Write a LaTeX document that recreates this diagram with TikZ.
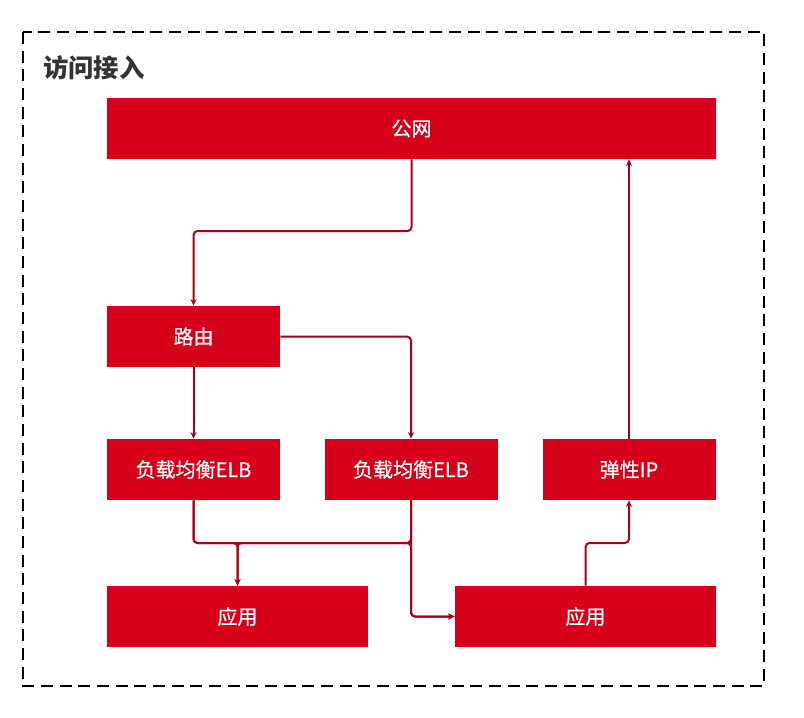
\documentclass[tikz,border=0pt]{standalone}
\usepackage{fontspec}
\setmainfont{Noto Sans CJK SC}
\newfontfamily\boxfont{Noto Sans CJK SC}[FakeBold=0.6]
\usetikzlibrary{arrows.meta,calc}
\definecolor{boxred}{HTML}{D7001B}
\definecolor{linered}{HTML}{A8001A}
\definecolor{titlegray}{HTML}{333333}
\tikzset{
  box/.style={fill=boxred, draw=none, text=white, font=\boxfont\fontsize{15pt}{17pt}\selectfont, minimum height=45.75pt, inner sep=0pt},
  smallbox/.style={box, minimum width=129.75pt},
  conn/.style={draw=linered, line width=1.5pt, rounded corners=3pt, -{Stealth[length=5pt,width=4.5pt]}},
}
\begin{document}
\begin{tikzpicture}[x=0.75pt,y=-0.75pt]
\useasboundingbox (0,0) rectangle (804,718);
\draw[black, line width=1.3pt, dash pattern=on 9pt off 5pt] (23,32) rectangle (764,686);
\node[anchor=west, text=titlegray, font=\fontsize{19pt}{22pt}\selectfont\bfseries, inner sep=0pt] (title) at (43,68) {访问接入};
\node[box, minimum width=456.75pt] (gw) at (411.5,128.5) {公网};
\node[smallbox] (router) at (193.5,336.5) {路由};
\node[smallbox] (elb1) at (193.5,469.5) {负载均衡ELB};
\node[smallbox] (elb2) at (411,469.5) {负载均衡ELB};
\node[smallbox] (eip) at (629,469.5) {弹性IP};
\node[box, minimum width=195.75pt] (app1) at (237.5,616.5) {应用};
\node[box, minimum width=195.75pt] (app2) at (585.5,616.5) {应用};
\coordinate (ytop) at (0,231);
\coordinate (ymid) at (0,543);
% connectors
\draw[conn] (gw.south) -- (gw.south |- ytop) -| (router.north);
\draw[conn] (router.east) -| (elb2.north);
\draw[conn] (router.south) -- (elb1.north);
\draw[conn] (elb1.south) -- (elb1.south |- ymid) -| (app1.north);
\draw[conn] (elb1.south) -- (elb1.south |- ymid) -- (elb2.south |- ymid) |- (app2.west);
\draw[conn] (elb2.south) |- (app2.west);
\draw[conn] (elb2.south) -- (elb2.south |- ymid) -| (app1.north);
\draw[conn] (app2.north) -- (app2.north |- ymid) -| (eip.south);
\draw[conn] (eip.north) -- (eip.north |- gw.south);
\end{tikzpicture}
\end{document}
